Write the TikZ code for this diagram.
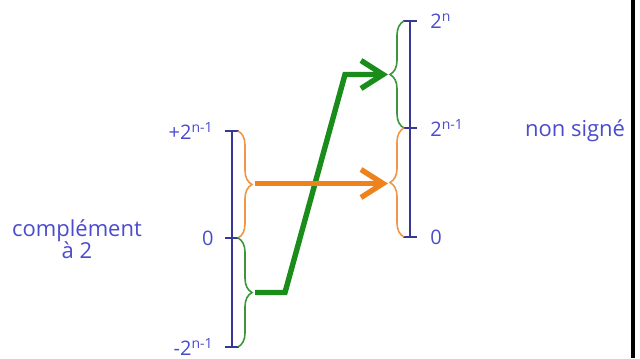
\documentclass[tikz,border=0pt]{standalone}
\usepackage{fontspec}
\setmainfont{Open Sans}
\usetikzlibrary{positioning,calc,decorations.pathreplacing,arrows.meta}

\definecolor{axisblue}{RGB}{55,55,150}
\definecolor{labelblue}{RGB}{75,75,205}
\definecolor{arroworange}{RGB}{240,130,30}
\definecolor{braceorange}{RGB}{240,150,70}
\definecolor{arrowgreen}{RGB}{25,140,25}
\definecolor{bracegreen}{RGB}{60,150,60}

\begin{document}
\begin{tikzpicture}[x=0.5pt, y=-0.5pt,
    axis/.style={draw=axisblue, line width=1pt},
    value/.style={text=labelblue, font=\fontsize{10}{12}\selectfont, inner sep=0pt},
    caption/.style={text=labelblue, font=\fontsize{11}{11}\selectfont, align=center},
    bracket/.style={decorate, decoration={brace, amplitude=7pt}, line width=0.8pt},
    arrow/.style={line width=2.7pt, -{Straight Barb[length=11pt, width=14pt, line width=2.7pt]}}
]
\useasboundingbox (0,0) rectangle (640,358);

% Axes
\coordinate (ltop) at (232,131);
\coordinate (lzero) at (232,238);
\coordinate (lbot) at (232,347);
\coordinate (rtop) at (410,21);
\coordinate (rmid) at (410,128);
\coordinate (rzero) at (410,237);

\draw[axis] (ltop) -- (lbot);
\draw[axis] (rtop) -- (rzero);
\foreach \p in {ltop,lzero,lbot,rtop,rmid,rzero}
    \draw[axis] ($(\p)+(-7,0)$) -- ($(\p)+(7,0)$);

% Values
\node[value, left=9pt of ltop] (vltop) {+2\textsuperscript{n-1}};
\node[value, left=9pt of lzero] (vlzero) {0};
\node[value, left=9pt of lbot] (vlbot) {-2\textsuperscript{n-1}};
\node[value, right=10pt of rtop] (vrtop) {2\textsuperscript{n}};
\node[value, right=10pt of rmid] (vrmid) {2\textsuperscript{n-1}};
\node[value, right=10pt of rzero] (vrzero) {0};

% Captions
\node[caption] (signed) at (77,239) {complément\\[-1pt]à 2};
\node[caption] (unsigned) at (575,131) {non signé};

% Braces
\draw[bracket, braceorange] ($(ltop)+(6,0)$) -- ($(lzero)+(6,0)$);
\draw[bracket, bracegreen] ($(lzero)+(6,0)$) -- ($(lbot)+(6,0)$);
\draw[bracket, bracegreen] ($(rmid)+(-6,0)$) -- ($(rtop)+(-6,0)$);
\draw[bracket, braceorange] ($(rzero)+(-6,0)$) -- ($(rmid)+(-6,0)$);

\coordinate (otipL) at ($(ltop)!0.5!(lzero)+(23,-1)$);
\coordinate (gtipL) at ($(lzero)!0.5!(lbot)+(23,0)$);
\coordinate (gtipR) at ($(rtop)!0.5!(rmid)+(-22,0)$);
\coordinate (otipR) at ($(otipL -| rmid)+(-22,0)$);
\coordinate (gstep) at ($(gtipL)+(30,0)$);
\coordinate (gkink) at ($(gtipR)+(-43,0)$);

% Arrows
\draw[arrow, arrowgreen] (gtipL) -- (gstep) -- (gkink) -- (gtipR);
\draw[arrow, arroworange] (otipL) -- (otipR);

% frame edge
\fill[black] (631,0) rectangle (635,358);
\end{tikzpicture}
\end{document}
